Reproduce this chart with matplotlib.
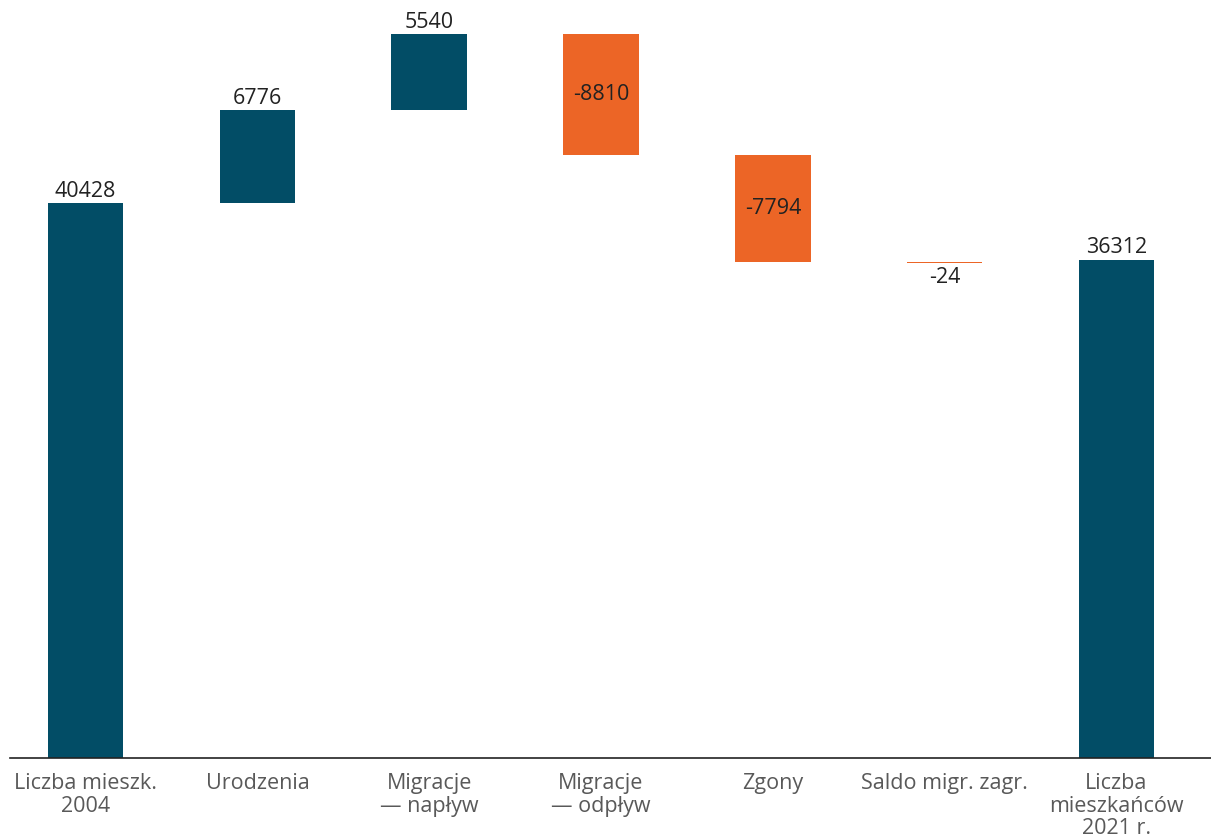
import numpy as np
import matplotlib.pyplot as plt

plt.rcParams['font.family'] = ['Open Sans', 'DejaVu Sans']

categories = ['Liczba mieszk.\n2004', 'Urodzenia', 'Migracje\n— napływ', 'Migracje\n— odpływ',
              'Zgony', 'Saldo migr. zagr.', 'Liczba\nmieszkańców\n2021 r.']
values = [40428, 6776, 5540, -8810, -7794, -24, 36312]
is_total = [True, False, False, False, False, False, True]

teal = '#024D66'
orange = '#EC6526'

fig = plt.figure(figsize=(12.11, 8.38), dpi=100)
ax = fig.add_axes([10 / 1211, 80 / 838, 1 - 10 / 1211, 758 / 838])

x = np.arange(len(categories))
running = 0
for i, (v, tot) in enumerate(zip(values, is_total)):
    if tot:
        bottom = 0
        running = v
    else:
        bottom = running
        running += v
    color = teal if v >= 0 else orange
    ax.bar(x[i], v, bottom=bottom, width=0.44, color=color)
    top = bottom + v
    if v >= 0:
        ax.text(x[i], top + 100, str(v), ha='center', va='bottom', fontsize=15.5, color='#222222')
    elif abs(v) < 1000:
        ax.text(x[i], top - 350, str(v), ha='center', va='top', fontsize=15.5, color='#222222')
    else:
        ax.text(x[i], bottom + v / 2, str(v), ha='center', va='center', fontsize=15.5, color='#222222')

ax.set_xlim(-0.44, 6.55)
ax.set_ylim(0, 55250)
ax.set_xticks(x)
ax.set_xticklabels(categories, fontsize=15.5, color='#595959', linespacing=1.08)
ax.tick_params(axis='x', length=0, pad=11)
ax.set_yticks([])
for s in ['top', 'left', 'right']:
    ax.spines[s].set_visible(False)
ax.spines['bottom'].set_color('#222222')
ax.spines['bottom'].set_linewidth(1.2)

fig.savefig('out.png', dpi=100)
